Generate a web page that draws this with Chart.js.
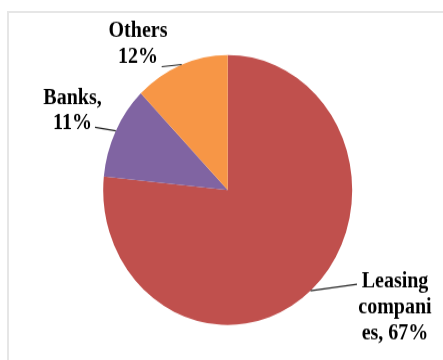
<!DOCTYPE html>
<html>
<head>
<meta charset="utf-8">
<script src="https://cdn.jsdelivr.net/npm/chart.js@4.4.1/dist/chart.umd.min.js"></script>
<style>
  html, body { margin: 0; padding: 0; background: #fff; width: 443px; height: 360px; overflow: hidden; }
  #frame { position: absolute; left: 7px; top: 11px; width: 440px; height: 360px;
           border-top: 2px solid #e6e6e6; border-left: 2px solid #e6e6e6; }
  #wrap { position: absolute; left: 0; top: 0; width: 443px; height: 332px;
          transform: scaleY(1.0843); transform-origin: 0 0; }
</style>
</head>
<body>
<div id="frame"></div>
<div id="wrap"><canvas id="c" width="443" height="332"></canvas></div>
<script>
const categories = ["Leasing companies", "Banks", "Others"];
const shares = [76.6, 11.1, 12.3];
const labelLines = [["Leasing", "compani", "es, 67%"], ["Banks,", "11%"], ["Others", "12%"]];
const colors = ["#C0504D", "#8064A2", "#F79646"];

// Label layout (pixel placement of annotations, not data)
const labelLayout = [
  { edgeAngleDeg: 48.3,  lineEnd: [357, 262.2], textX: 395, baseY: 265.3, lh: 24 },
  { edgeAngleDeg: 206.0, lineEnd: [95, 117.4],  textX: 72.5, baseY: 95.8, lh: 23.3 },
  { edgeAngleDeg: 248.3, lineEnd: [161.7, 61.5], textX: 138, baseY: 33.9, lh: 24 }
];

const labelPlugin = {
  id: 'pieLabels',
  afterDatasetsDraw(chart) {
    const ctx = chart.ctx;
    const meta = chart.getDatasetMeta(0);
    meta.data.forEach((arc, i) => {
      const L = labelLayout[i];
      const a = L.edgeAngleDeg * Math.PI / 180;
      const ex = arc.x + arc.outerRadius * Math.cos(a);
      const ey = arc.y + arc.outerRadius * Math.sin(a);
      ctx.save();
      ctx.strokeStyle = '#222';
      ctx.lineWidth = 1.2;
      ctx.beginPath();
      ctx.moveTo(ex, ey);
      ctx.lineTo(L.lineEnd[0], L.lineEnd[1]);
      ctx.stroke();
      ctx.fillStyle = '#000';
      ctx.font = 'bold 20px "Liberation Serif", "Times New Roman", serif';
      ctx.textAlign = 'center';
      ctx.textBaseline = 'alphabetic';
      labelLines[i].forEach((t, k) => ctx.fillText(t, L.textX, L.baseY + k * L.lh));
      ctx.restore();
    });
  }
};

new Chart(document.getElementById('c'), {
  type: 'pie',
  data: {
    labels: categories,
    datasets: [{ data: shares, backgroundColor: colors, borderWidth: 0 }]
  },
  options: {
    responsive: false,
    animation: false,
    layout: { padding: { left: 103.2, right: 90.8, top: 50.7, bottom: 32.3 } },
    plugins: { legend: { display: false }, tooltip: { enabled: false } }
  },
  plugins: [labelPlugin]
});
</script>
</body>
</html>
